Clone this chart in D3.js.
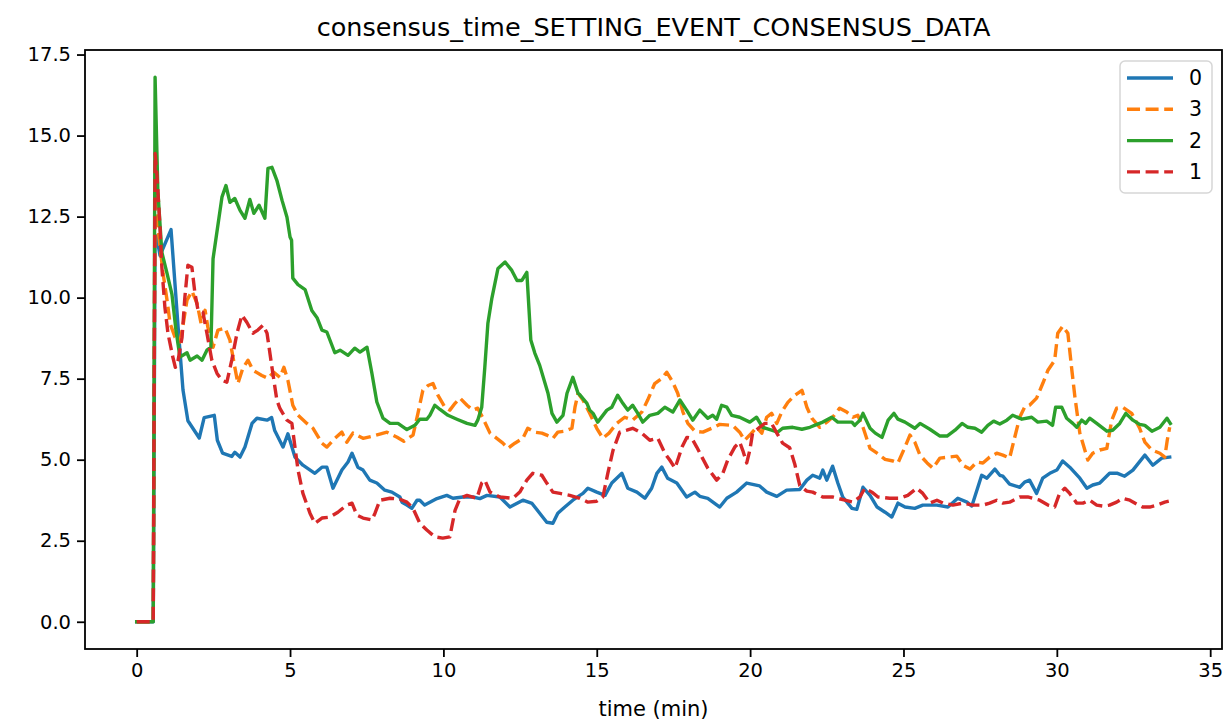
<!DOCTYPE html>
<html>
<head>
<meta charset="utf-8">
<script src="https://cdn.jsdelivr.net/npm/d3@7"></script>
<style>
  html, body { margin: 0; padding: 0; background: #fff; }
  svg { display: block; font-family: "DejaVu Sans", sans-serif; }
</style>
</head>
<body>
<svg id="chart" width="1227" height="721"></svg>
<script>
const title = "consensus_time_SETTING_EVENT_CONSENSUS_DATA";
const xLabel = "time (min)";
const xTicks = [0, 5, 10, 15, 20, 25, 30, 35];
const yTicks = [0, 2.5, 5, 7.5, 10, 12.5, 15, 17.5];
const seriesNames = ["0", "3", "2", "1"];
const seriesColors = ["#1f77b4", "#ff7f0e", "#2ca02c", "#d62728"];
const seriesDashed = [false, true, false, true];

const t0 = [0,0.54,0.6,0.65,0.76,1.12,1.35,1.51,1.67,2.04,2.2,2.53,2.63,2.8,3.1,3.2,3.37,3.53,3.76,3.92,4.25,4.4,4.5,4.77,4.93,5.16,5.42,5.81,6.04,6.2,6.4,6.69,6.89,7.02,7.21,7.38,7.6,7.83,8.09,8.32,8.58,8.65,8.81,8.97,9.14,9.23,9.39,9.79,10.11,10.31,10.64,10.97,11.19,11.42,11.84,12.17,12.59,12.89,13.14,13.37,13.57,13.73,13.96,14.22,14.45,14.55,14.71,15.0,15.27,15.49,15.82,16.01,16.31,16.57,16.79,16.96,17.12,17.31,17.61,17.93,18.2,18.36,18.62,19.01,19.24,19.56,19.89,20.31,20.54,20.87,21.19,21.62,21.85,22.04,22.27,22.37,22.5,22.69,22.86,23.02,23.32,23.48,23.68,23.91,24.14,24.4,24.62,24.82,25.05,25.37,25.63,26.09,26.45,26.77,27.07,27.23,27.55,27.72,27.98,28.14,28.24,28.46,28.79,28.95,29.11,29.34,29.54,29.77,30.0,30.19,30.42,30.75,30.98,31.17,31.4,31.72,31.98,32.21,32.48,32.87,33.13,33.42,33.68];
const v0 = [0,0,11.8,11.9,11.3,12.1,9.1,7.15,6.2,5.67,6.3,6.37,5.6,5.2,5.1,5.23,5.08,5.39,6.12,6.28,6.22,6.3,5.9,5.39,5.8,5.08,4.83,4.58,4.77,4.77,4.12,4.68,4.93,5.2,4.77,4.68,4.37,4.28,4.06,4.0,3.85,3.69,3.6,3.5,3.75,3.75,3.6,3.8,3.9,3.81,3.85,3.85,3.8,3.9,3.85,3.54,3.75,3.65,3.35,3.07,3.04,3.35,3.54,3.75,3.9,3.96,4.12,4.0,3.9,4.28,4.58,4.12,4.0,3.81,4.12,4.58,4.77,4.43,4.28,3.85,4.0,3.87,3.81,3.54,3.81,4.0,4.28,4.19,4.0,3.87,4.06,4.08,4.37,4.52,4.43,4.68,4.37,4.8,4.28,3.85,3.5,3.47,4.15,3.9,3.54,3.38,3.23,3.66,3.54,3.5,3.6,3.6,3.54,3.81,3.69,3.57,4.52,4.43,4.71,4.52,4.49,4.25,4.15,4.31,4.37,3.96,4.43,4.58,4.68,4.96,4.77,4.43,4.12,4.22,4.28,4.58,4.58,4.49,4.68,5.14,4.83,5.05,5.08];

const t3 = [0,0.54,0.6,0.69,0.86,0.99,1.09,1.25,1.41,1.5,1.64,1.8,1.97,2.1,2.23,2.32,2.49,2.65,2.88,3.04,3.2,3.3,3.46,3.63,3.79,4.08,4.28,4.47,4.67,4.8,4.93,5.09,5.26,5.55,5.75,6.04,6.2,6.46,6.69,6.85,7.05,7.38,7.7,8.16,8.49,8.71,9.01,9.17,9.33,9.5,9.66,9.82,10.05,10.21,10.38,10.54,10.77,10.96,11.12,11.29,11.52,11.74,11.94,12.1,12.33,12.59,12.75,12.98,13.21,13.37,13.57,13.73,13.96,14.19,14.29,14.39,14.55,14.77,15.0,15.2,15.4,15.65,15.91,16.17,16.47,16.66,16.89,17.12,17.28,17.48,17.64,17.81,17.97,18.2,18.46,18.75,19.01,19.43,19.66,19.82,19.99,20.21,20.38,20.54,20.7,20.87,21.03,21.23,21.46,21.69,21.85,22.01,22.27,22.5,22.69,22.92,23.15,23.35,23.51,23.68,23.91,24.14,24.4,24.66,24.82,25.05,25.21,25.37,25.54,25.77,25.96,26.19,26.45,26.74,26.94,27.17,27.39,27.59,27.81,28.04,28.24,28.46,28.63,28.79,28.95,29.11,29.34,29.54,29.71,29.93,30.03,30.19,30.36,30.49,30.59,30.75,31.01,31.17,31.4,31.63,31.79,31.95,32.15,32.44,32.7,32.87,33.1,33.36,33.52,33.6,33.68];
const v3 = [0,0,13.2,12.17,10.75,9.92,9.2,8.78,8.63,9.09,9.92,10.2,9.82,9.2,9.61,9.09,8.47,9.0,9.06,8.69,7.85,7.35,7.82,8.07,7.76,7.6,7.51,7.7,7.54,7.85,7.45,6.68,6.37,6.12,5.97,5.51,5.39,5.66,5.85,5.54,5.82,5.66,5.73,5.85,5.69,5.57,5.76,6.43,7.14,7.29,7.35,6.99,6.62,6.53,6.74,6.9,6.68,6.53,6.59,6.28,5.82,5.66,5.51,5.35,5.51,5.66,5.97,5.85,5.82,5.76,5.66,5.85,5.88,5.97,6.62,7.05,6.84,6.43,5.97,5.66,5.82,6.12,6.31,6.22,6.47,6.84,7.35,7.51,7.7,7.39,7.05,6.47,6.12,5.88,5.85,5.97,6.09,6.06,5.85,5.6,5.76,6.0,5.82,6.31,6.43,6.12,6.47,6.77,6.99,7.14,6.62,6.28,6.0,6.16,6.31,6.59,6.47,6.31,6.37,6.0,5.35,5.2,5.01,4.96,4.9,5.39,5.76,5.54,5.14,4.9,4.74,5.05,5.08,5.11,4.83,4.71,4.93,4.9,5.08,5.2,5.14,5.05,5.7,6.31,6.62,6.68,6.9,7.35,7.76,8.07,8.9,9.12,8.9,7.76,6.93,5.82,4.99,5.2,5.3,5.35,6.22,6.59,6.62,6.43,5.97,5.54,5.3,5.2,5.08,5.6,6.0];

const t2 = [0,0.54,0.6,0.69,0.82,0.99,1.15,1.28,1.41,1.64,1.74,1.97,2.13,2.29,2.42,2.49,2.78,2.91,3.04,3.2,3.37,3.53,3.69,3.82,3.99,4.18,4.28,4.41,4.57,4.74,4.9,5.0,5.05,5.09,5.26,5.49,5.71,5.88,6.04,6.2,6.46,6.63,6.89,7.11,7.28,7.51,7.67,7.83,8.03,8.26,8.52,8.81,9.07,9.23,9.46,9.56,9.72,9.89,10.15,10.44,10.77,11.03,11.12,11.25,11.35,11.45,11.58,11.78,12.01,12.23,12.4,12.56,12.72,12.85,12.98,13.14,13.41,13.54,13.7,13.9,14.03,14.22,14.39,14.45,14.68,14.77,14.88,15.03,15.33,15.49,15.68,15.85,16.01,16.17,16.34,16.5,16.73,16.99,17.22,17.48,17.71,17.93,18.13,18.36,18.62,18.78,18.91,19.07,19.24,19.4,19.66,19.99,20.21,20.41,20.7,20.9,21.06,21.39,21.69,21.95,22.18,22.37,22.66,22.86,23.32,23.41,23.58,23.68,23.91,24.08,24.3,24.5,24.69,24.82,25.05,25.37,25.54,25.86,26.19,26.42,26.68,26.91,27.1,27.33,27.55,27.75,27.94,28.14,28.37,28.56,28.86,29.18,29.38,29.67,29.86,29.96,30.16,30.32,30.52,30.65,30.81,30.94,31.07,31.3,31.63,31.82,32.05,32.25,32.48,32.7,32.87,33.1,33.36,33.59,33.7];
const v2 = [0,0,16.8,13.3,11.4,10.75,10.1,9.0,8.17,8.3,8.07,8.2,8.07,8.38,8.47,11.2,13.1,13.46,12.94,13.06,12.69,12.45,13.03,12.6,12.85,12.45,13.99,14.02,13.62,13.0,12.48,11.87,11.77,10.6,10.4,10.25,9.6,9.38,9.0,8.94,8.3,8.38,8.22,8.44,8.32,8.47,7.66,6.78,6.28,6.12,6.12,5.93,6.06,6.25,6.25,6.37,6.68,6.55,6.37,6.25,6.12,6.06,6.22,6.62,7.85,9.2,9.98,10.9,11.1,10.84,10.53,10.53,10.78,8.69,8.29,7.91,7.05,6.43,6.16,6.37,7.05,7.54,7.05,7.0,6.74,6.53,6.43,6.16,6.53,6.62,6.99,6.74,6.53,6.68,6.43,6.16,6.37,6.43,6.62,6.47,6.84,6.53,6.22,6.53,6.28,6.37,6.25,6.68,6.62,6.37,6.31,6.16,6.31,6.0,5.91,5.85,5.97,6.0,5.94,6.0,6.09,6.16,6.31,6.16,6.16,6.06,6.22,6.43,5.97,5.82,5.69,6.22,6.43,6.25,6.16,5.97,6.12,5.94,5.73,5.73,5.91,6.12,6.0,5.97,5.85,6.06,6.19,6.1,6.22,6.37,6.25,6.31,6.16,6.19,6.06,6.62,6.62,6.28,6.12,6.0,6.22,6.12,6.28,6.12,5.88,5.91,6.12,6.43,6.22,6.09,6.06,5.88,6.0,6.28,6.12];

const t1 = [0,0.54,0.6,0.66,0.76,0.82,0.92,1.02,1.17,1.26,1.35,1.48,1.57,1.67,1.8,1.9,2.0,2.16,2.29,2.45,2.62,2.78,2.94,3.1,3.27,3.43,3.59,3.79,3.95,4.12,4.25,4.41,4.57,4.67,4.9,5.06,5.16,5.26,5.42,5.65,5.81,6.04,6.3,6.56,6.85,7.02,7.18,7.38,7.67,7.77,7.93,8.26,8.58,8.81,9.01,9.23,9.46,9.72,9.98,10.21,10.38,10.54,10.77,11.09,11.25,11.35,11.52,11.84,12.27,12.49,12.72,12.91,13.21,13.37,13.57,13.8,14.12,14.45,14.71,15.0,15.2,15.36,15.53,15.75,15.98,16.17,16.47,16.73,16.99,17.22,17.38,17.55,17.64,17.78,17.94,18.1,18.26,18.43,18.62,18.91,19.11,19.27,19.5,19.66,19.76,19.89,19.99,20.08,20.31,20.48,20.7,20.87,21.06,21.29,21.46,21.62,21.85,22.04,22.37,22.69,23.09,23.35,23.58,23.74,23.97,24.17,24.55,24.88,25.14,25.43,25.63,25.86,26.09,26.29,26.61,26.94,27.26,27.59,27.81,28.04,28.24,28.46,28.79,29.05,29.21,29.44,29.71,29.93,30.09,30.26,30.42,30.65,30.85,31.07,31.3,31.5,31.72,31.95,32.15,32.38,32.61,32.8,33.03,33.26,33.52,33.65];
const v1 = [0,0,14.45,13.8,12.17,10.94,9.7,8.9,8.2,7.85,8.07,8.78,10.0,11.0,10.94,10.13,9.61,9.55,8.9,8.07,7.66,7.45,7.39,8.07,8.9,9.46,9.24,8.9,9.0,9.15,8.9,7.85,6.84,6.58,6.22,6.12,5.39,4.68,3.96,3.35,3.04,3.2,3.23,3.38,3.6,3.66,3.29,3.2,3.14,3.35,3.75,3.81,3.78,3.69,3.5,3.04,2.83,2.62,2.58,2.62,3.44,3.81,3.9,3.81,4.28,4.37,4.0,3.85,3.81,4.0,4.37,4.58,4.52,4.28,4.0,3.96,3.9,3.81,3.69,3.72,3.85,4.58,5.29,5.85,5.91,5.97,5.82,5.6,5.66,5.2,4.99,4.74,4.99,5.39,5.69,5.66,5.39,5.08,4.74,4.37,4.58,4.99,5.39,5.54,5.29,4.9,5.29,5.82,6.0,6.12,6.12,5.82,5.51,5.37,4.85,4.2,4.03,4.0,3.85,3.85,3.75,3.69,3.85,4.12,4.0,3.85,3.81,3.81,3.9,4.12,3.96,3.66,3.75,3.66,3.6,3.66,3.6,3.6,3.66,3.75,3.66,3.69,3.85,3.85,3.81,3.75,3.6,3.54,3.96,4.12,3.96,3.66,3.66,3.75,3.6,3.57,3.6,3.69,3.81,3.75,3.63,3.54,3.54,3.6,3.69,3.72];

const seriesTimes = [t0, t3, t2, t1];
const seriesValues = [v0, v3, v2, v1];

const W = 1227, H = 721;
const plot = { left: 85, right: 1222, top: 50, bottom: 649 };

const svg = d3.select("#chart");

const allT = seriesTimes.flat();
const allV = seriesValues.flat();
const tMin = d3.min(allT), tMax = d3.max(allT);
const vMin = d3.min(allV), vMax = d3.max(allV);
const tPad = (tMax - tMin) * 0.05, vPad = (vMax - vMin) * 0.05;

const x = d3.scaleLinear().domain([tMin - tPad, tMax + tPad]).range([plot.left, plot.right]);
const y = d3.scaleLinear().domain([vMin - vPad, vMax + vPad]).range([plot.bottom, plot.top]);

svg.append("defs").append("clipPath").attr("id", "clip")
  .append("rect").attr("x", plot.left).attr("y", plot.top)
  .attr("width", plot.right - plot.left).attr("height", plot.bottom - plot.top);

const line = d3.line().x(d => x(d[0])).y(d => y(d[1]));

const g = svg.append("g").attr("clip-path", "url(#clip)");
seriesNames.forEach((name, i) => {
  const pts = seriesTimes[i].map((t, j) => [t, seriesValues[i][j]]);
  g.append("path")
    .attr("d", line(pts))
    .attr("fill", "none")
    .attr("stroke", seriesColors[i])
    .attr("stroke-width", 3.4)
    .attr("stroke-linejoin", "round")
    .attr("stroke-linecap", seriesDashed[i] ? "butt" : "square")
    .attr("stroke-dasharray", seriesDashed[i] ? "13,5.6" : null);
});

const xAxis = d3.axisBottom(x).tickValues(xTicks).tickFormat(d3.format("d")).tickSize(8).tickPadding(6);
const yAxis = d3.axisLeft(y).tickValues(yTicks).tickFormat(d3.format(".1f")).tickSize(8).tickPadding(6);

const gx = svg.append("g").attr("transform", `translate(0,${plot.bottom})`).call(xAxis);
const gy = svg.append("g").attr("transform", `translate(${plot.left},0)`).call(yAxis);
[gx, gy].forEach(ax => {
  ax.select(".domain").remove();
  ax.selectAll(".tick line").attr("stroke", "#000").attr("stroke-width", 1.8);
  ax.selectAll(".tick text").attr("fill", "#000").style("font-size", "19.5px").style("font-family", "DejaVu Sans");
});

svg.append("rect")
  .attr("x", plot.left).attr("y", plot.top)
  .attr("width", plot.right - plot.left).attr("height", plot.bottom - plot.top)
  .attr("fill", "none").attr("stroke", "#000").attr("stroke-width", 1.8);

svg.append("text").attr("x", (plot.left + plot.right) / 2).attr("y", 36)
  .attr("text-anchor", "middle").style("font-size", "25.5px").attr("fill", "#000").text(title);
svg.append("text").attr("x", (plot.left + plot.right) / 2).attr("y", 715.5)
  .attr("text-anchor", "middle").style("font-size", "21px").attr("fill", "#000").text(xLabel);

const lg = svg.append("g");
lg.append("rect").attr("x", 1120).attr("y", 61).attr("width", 92).attr("height", 132)
  .attr("rx", 5).attr("ry", 5).attr("fill", "#fff").attr("fill-opacity", 0.8)
  .attr("stroke", "#d6d6d6").attr("stroke-width", 1.5);
seriesNames.forEach((name, i) => {
  const cy = 78 + i * 31.3;
  lg.append("line").attr("x1", 1127).attr("x2", 1173).attr("y1", cy).attr("y2", cy)
    .attr("stroke", seriesColors[i]).attr("stroke-width", 3.4)
    .attr("stroke-dasharray", seriesDashed[i] ? "13,5.6" : null);
  lg.append("text").attr("x", 1189).attr("y", cy).attr("dy", "0.35em")
    .style("font-size", "20.5px").attr("fill", "#000").text(name);
});
</script>
</body>
</html>
